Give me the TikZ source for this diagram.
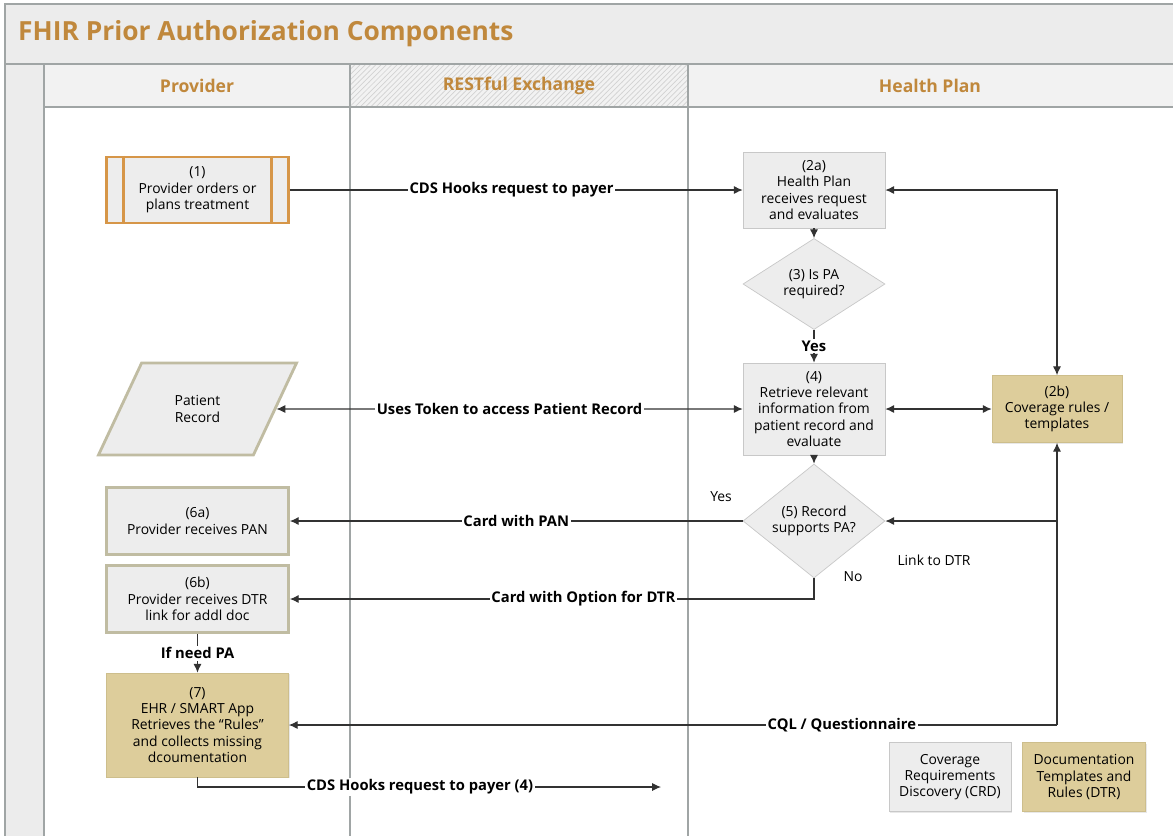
\documentclass[tikz,border=0pt]{standalone}
\usepackage{fontspec}
\setmainfont{Open Sans}
\usepackage{tikz}
\usetikzlibrary{arrows.meta,positioning,shapes.geometric,patterns,shadows}
\definecolor{pabrown}{RGB}{192,136,60}
\definecolor{bandgray}{RGB}{236,236,236}
\definecolor{headgray}{RGB}{242,242,242}
\definecolor{boxgray}{RGB}{237,237,237}
\definecolor{boxline}{RGB}{200,200,200}
\definecolor{tanfill}{RGB}{221,205,155}
\definecolor{tanline}{RGB}{205,190,140}
\definecolor{provline}{RGB}{192,188,162}
\definecolor{procline}{RGB}{214,150,72}
\definecolor{laneclr}{RGB}{160,165,165}
\definecolor{arrowclr}{RGB}{50,50,50}
\newcommand{\panodefont}{\fontsize{7.9}{9.3}\selectfont}
\newcommand{\palabelfont}{\bfseries\fontsize{8.4}{10}\selectfont}
\tikzset{
  graybox/.style={
    rectangle,
    draw=boxline,
    fill=boxgray,
    align=center,
    inner sep=1pt,
    font=\panodefont,
    drop shadow={opacity=0.18, shadow xshift=0.8pt, shadow yshift=-0.8pt}
  },
  tanbox/.style={
    graybox,
    draw=tanline,
    fill=tanfill
  },
  provbox/.style={
    graybox,
    draw=provline,
    line width=1.6pt,
    minimum width=3.64cm,
    minimum height=1.34cm
  },
  procbox/.style={
    graybox,
    draw=procline,
    line width=1.2pt,
    minimum width=3.64cm,
    minimum height=1.32cm
  },
  recordbox/.style={
    trapezium,
    trapezium left angle=60,
    trapezium right angle=120,
    trapezium stretches=true,
    draw=provline,
    line width=1.6pt,
    fill=boxgray,
    align=center,
    font=\panodefont,
    minimum width=3.98cm,
    minimum height=1.84cm
  },
  decision/.style={
    diamond,
    draw=boxline,
    fill=boxgray,
    align=center,
    inner sep=0pt,
    font=\panodefont,
    minimum width=2.84cm,
    minimum height=1.34cm
  },
  lanehead/.style={text=pabrown, font=\bfseries\fontsize{10}{12}\selectfont},
  edgelabel/.style={fill=white, inner sep=1pt, font=\palabelfont},
  freetext/.style={font=\panodefont, inner sep=1pt},
  laneline/.style={draw=laneclr, line width=0.6pt},
  flowline/.style={->, >={Latex[length=5pt,width=4.6pt]}, draw=arrowclr, line width=0.6pt},
  twoway/.style={flowline, <->}
}

\begin{document}
\begin{tikzpicture}[x=0.02cm, y=-0.02cm]
  \useasboundingbox (0,0) rectangle (1173,836);
  % swimlane frame
  \fill[white] (0,0) rectangle (1173,836);
  \fill[bandgray] (5,4) rectangle (1173,64);
  \fill[bandgray] (5,64) rectangle (44,836);
  \fill[headgray] (44,64) rectangle (1173,107);
  \fill[pattern=north east lines, pattern color=gray!35] (350,64) rectangle (688,107);
  \draw[laneline] (1173,4) -- (5,4) -- (5,836);
  \draw[laneline] (5,64) -- (1173,64);
  \draw[laneline] (44,107) -- (1173,107);
  \foreach \x in {44,350,688}
    \draw[laneline] (\x,64) -- (\x,836);

  \node[anchor=west, text=pabrown, font=\bfseries\fontsize{15}{18}\selectfont] (title) at (12,34) {FHIR Prior Authorization Components};
  \node[lanehead] (hprov) at (197,86) {Provider};
  \node[lanehead] (hrest) at (519,86) {RESTful Exchange};
  \node[lanehead] (hplan) at (930,86) {Health Plan};

  % provider lane
  \node[procbox] (p1) at (197.5,190) {(1)\\Provider orders or\\plans treatment};
  \draw[procline, line width=1.2pt] ([xshift=0.36cm]p1.north west) -- ([xshift=0.36cm]p1.south west);
  \draw[procline, line width=1.2pt] ([xshift=-0.36cm]p1.north east) -- ([xshift=-0.36cm]p1.south east);
  \node[recordbox] (rec) at (197.5,409) {Patient\\Record};
  \node[provbox] (p6a) at (197.5,521) {(6a)\\Provider receives PAN};
  \node[provbox] (p6b) at (197.5,599) {(6b)\\Provider receives DTR\\link for addl doc};
  \node[tanbox, minimum width=3.64cm, minimum height=2.08cm] (p7) at (197.5,725) {(7)\\EHR / SMART App\\Retrieves the “Rules”\\and collects missing\\dcoumentation};

  % health plan lane
  \node[graybox, minimum width=2.84cm, minimum height=1.52cm] (p2a) at (814,190) {(2a)\\Health Plan\\receives request\\and evaluates};
  \node[decision] (p3) at (814,284) {(3) Is PA\\required?};
  \node[graybox, minimum width=2.84cm, minimum height=1.84cm] (p4) at (814,409) {(4)\\Retrieve relevant\\information from\\patient record and\\evaluate};
  \node[tanbox, minimum width=2.6cm, minimum height=1.34cm] (p2b) at (1057,409) {(2b)\\Coverage rules /\\templates};
  \node[decision] (p5) at (814,521) {(5) Record\\supports PA?};
  \node[graybox, minimum width=2.44cm, minimum height=1.38cm] (crd) at (950,777) {Coverage\\Requirements\\Discovery (CRD)};
  \node[tanbox, minimum width=2.46cm, minimum height=1.38cm] (dtr) at (1084,777) {Documentation\\Templates and\\Rules (DTR)};

  \node[freetext] (yes5) at (721,497) {Yes};
  \node[freetext] (no5) at (853,577) {No};
  \node[freetext] (dtrlink) at (934,560) {Link to DTR};

  % connectors
  \draw[flowline] (p1) -- node[edgelabel, pos=0.49]{CDS Hooks request to payer} (p2a);
  \draw[twoway] (p2a.east) -| (p2b.north);
  \draw[flowline] (p2a) -- (p3);
  \draw[flowline] (p3) -- node[edgelabel]{Yes} (p4);
  \draw[twoway] (rec.east) -- node[edgelabel, pos=0.5]{Uses Token to access Patient Record} (p4.west);
  \draw[twoway] (p4) -- (p2b);
  \draw[flowline] (p4) -- (p5);
  \draw[flowline] (p5) -- node[edgelabel, pos=0.50]{Card with PAN} (p6a);
  \draw[flowline] (p5.south) |- node[edgelabel, pos=0.72]{Card with Option for DTR} (p6b.east);
  \coordinate (cqlturn) at (p2b.south |- p7.east);
  \draw[flowline] (cqlturn) -- (p2b.south);
  \draw[flowline] (p2b.south |- p5.east) -- (p5.east);
  \draw[flowline] (cqlturn) -- node[edgelabel, pos=0.28]{CQL / Questionnaire} (p7.east);
  \draw[flowline] (p6b) -- node[edgelabel]{If need PA} (p7);
  \coordinate (payer4) at (661,787);
  \draw[flowline] (p7.south) |- node[edgelabel, pos=0.74]{CDS Hooks request to payer (4)} (payer4);
\end{tikzpicture}
\end{document}
